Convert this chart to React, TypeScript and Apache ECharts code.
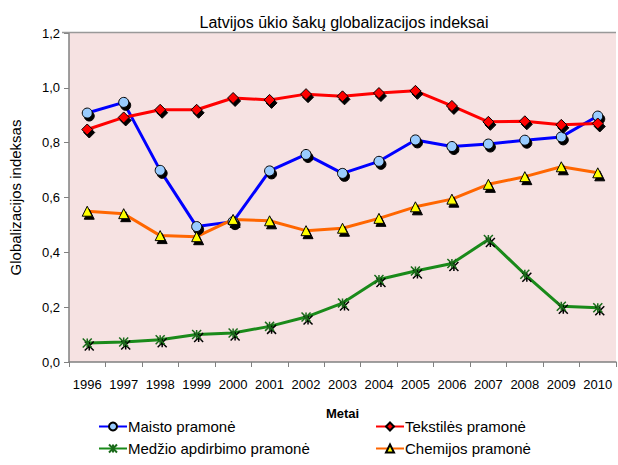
import React, { useEffect, useRef } from "react";
import * as echarts from "echarts";

const years = ["1996","1997","1998","1999","2000","2001","2002","2003","2004","2005","2006","2007","2008","2009","2010"];
const maisto = [0.908, 0.947, 0.699, 0.494, 0.512, 0.697, 0.757, 0.688, 0.732, 0.810, 0.786, 0.795, 0.809, 0.821, 0.897];
const tekstiles = [0.848, 0.892, 0.920, 0.920, 0.963, 0.956, 0.977, 0.969, 0.981, 0.989, 0.934, 0.876, 0.878, 0.865, 0.870];
const medzio = [0.069, 0.073, 0.081, 0.100, 0.106, 0.130, 0.164, 0.215, 0.301, 0.332, 0.359, 0.447, 0.320, 0.203, 0.198];
const chemijos = [0.550, 0.541, 0.461, 0.457, 0.520, 0.515, 0.479, 0.488, 0.524, 0.566, 0.594, 0.648, 0.676, 0.712, 0.690];
const yTicks = ["0,0", "0,2", "0,4", "0,6", "0,8", "1,0", "1,2"];

const NARROW = "'Liberation Sans Narrow', 'Arial Narrow', 'Liberation Sans', sans-serif";
const shadow = { shadowColor: "rgba(0,0,0,1)", shadowBlur: 0, shadowOffsetX: 2, shadowOffsetY: 3 };

export default function App() {
  const ref = useRef<HTMLDivElement>(null);
  useEffect(() => {
    if (!ref.current) return;
    const chart = echarts.init(ref.current, undefined, { renderer: "svg" });
    const mk = (name: string, data: number[], color: string, symbol: string, fill: string, size: number) => ({
      name,
      type: "line",
      data,
      symbol,
      symbolSize: size,
      showSymbol: true,
      lineStyle: { color, width: 3 },
      itemStyle: { color: fill, borderColor: "#000", borderWidth: 1, ...shadow },
      emphasis: { disabled: true },
      z: 3,
    });
    const legendText = { fontFamily: NARROW, fontSize: 15, color: "#000", padding: [0, 0, 0, -4] };
    chart.setOption({
      animation: false,
      backgroundColor: "#fff",
      textStyle: { fontFamily: NARROW },
      title: {
        text: "Latvijos ūkio šakų globalizacijos indeksai",
        left: 339,
        textAlign: "center",
        top: 9,
        textStyle: { fontFamily: NARROW, fontSize: 16, fontWeight: "normal", color: "#000" },
      },
      grid: { left: 62, right: 2, top: 33, bottom: 103, show: true, backgroundColor: "#F6E2E2", borderWidth: 0 },
      xAxis: {
        type: "category",
        data: years,
        boundaryGap: true,
        name: "Metai",
        nameLocation: "middle",
        nameGap: 45,
        nameTextStyle: { fontFamily: NARROW, fontSize: 13, fontWeight: "bold", color: "#000" },
        axisLine: { lineStyle: { color: "#808080", width: 1.5 } },
        axisTick: { show: true, length: 5, alignWithLabel: false, lineStyle: { color: "#808080" } },
        axisLabel: { fontFamily: NARROW, fontSize: 13, color: "#000", margin: 16, interval: 0 },
        splitLine: { show: false },
      },
      yAxis: {
        type: "value",
        min: 0,
        max: 1.2,
        interval: 0.2,
        name: "Globalizacijos indeksas",
        nameLocation: "middle",
        nameGap: 46,
        nameTextStyle: { fontFamily: "'Liberation Sans', Arial, sans-serif", fontSize: 15, color: "#000" },
        axisLine: { show: true, lineStyle: { color: "#808080", width: 1.5 } },
        axisTick: { show: true, length: 5, lineStyle: { color: "#808080" } },
        axisLabel: {
          fontFamily: NARROW,
          fontSize: 13,
          color: "#000",
          margin: 9,
          formatter: (v: number) => yTicks[Math.round(v / 0.2)] ?? "",
        },
        splitLine: { show: false },
      },
      legend: [
        {
          left: 98,
          top: 419,
          padding: 0,
          orient: "vertical",
          itemGap: 7,
          itemWidth: 28,
          itemHeight: 10,
          data: ["Maisto pramonė", "Medžio apdirbimo pramonė"],
          textStyle: legendText,
        },
        {
          left: 375,
          top: 419,
          padding: 0,
          orient: "vertical",
          itemGap: 7,
          itemWidth: 28,
          itemHeight: 10,
          data: ["Tekstilės pramonė", "Chemijos pramonė"],
          textStyle: legendText,
        },
      ],
      graphic: [
        { type: "line", shape: { x1: 62, y1: 32.5, x2: 616, y2: 32.5 }, style: { stroke: "#999", lineWidth: 1.5 }, z: 10 },
      ],
      series: [
        mk("Maisto pramonė", maisto, "#0000FF", "circle", "#99CCFF", 10),
        mk("Tekstilės pramonė", tekstiles, "#FF0000", "diamond", "#FF0000", 11),
        {
          ...mk("Medžio apdirbimo pramonė", medzio, "#1A8A1A", "path://M0,0L10,10M10,0L0,10M5,0L5,10M0,0L0,0", "#2A9A2A", 9),
          itemStyle: { color: "none", borderColor: "#1A6A1A", borderWidth: 1.5, ...shadow },
        },
        mk("Chemijos pramonė", chemijos, "#FF6600", "triangle", "#FFFF00", 10),
      ],
    });
    return () => chart.dispose();
  }, []);
  return <div ref={ref} style={{ width: 618, height: 465, position: "absolute", left: 0, top: 0 }} />;
}
